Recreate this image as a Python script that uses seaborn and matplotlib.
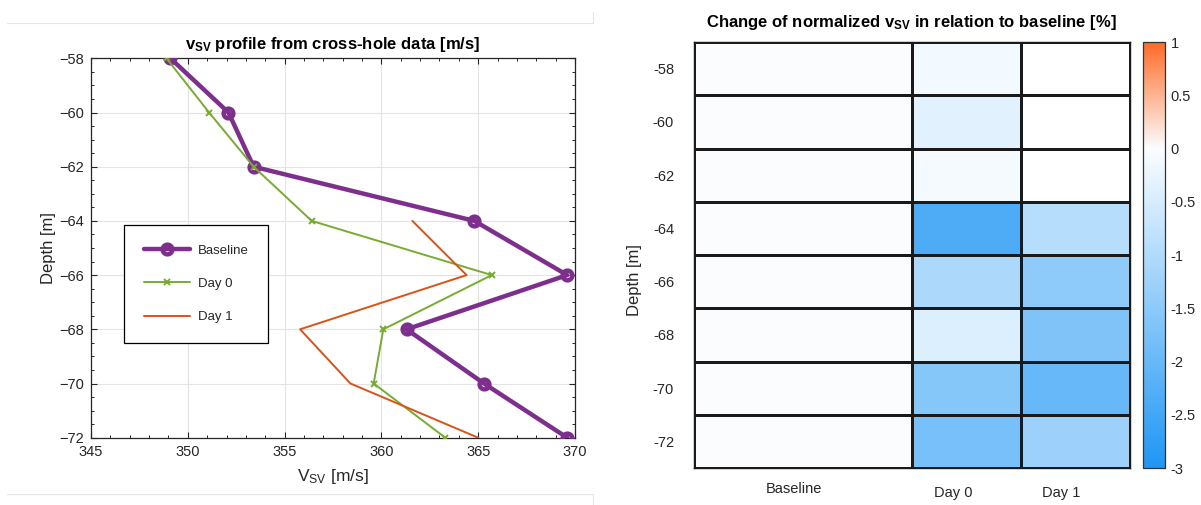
import numpy as np
import pandas as pd
import matplotlib
matplotlib.use("Agg")
import matplotlib.pyplot as plt
import matplotlib.transforms as mtransforms
from matplotlib.colors import LinearSegmentedColormap, Normalize
from matplotlib.ticker import MultipleLocator
from matplotlib.lines import Line2D
import seaborn as sns

# ---- data -------------------------------------------------------------
depth = [-58, -60, -62, -64, -66, -68, -70, -72]
vsv_baseline = [349.1, 352.1, 353.4, 364.8, 369.6, 361.3, 365.3, 369.6]
vsv_day0 = [348.9, 351.1, 353.4, 356.4, 365.7, 360.1, 359.6, 363.3]
depth_day1 = [-64, -66, -68, -70, -72]
vsv_day1 = [361.6, 364.4, 355.8, 358.4, 365.0]

# change of normalized vSV relative to baseline [%]
change_baseline = [0, 0, 0, 0, 0, 0, 0, 0]
change_day0 = [-0.12, -0.35, -0.08, -2.35, -1.08, -0.42, -1.58, -1.78]
change_day1 = [np.nan, np.nan, np.nan, -0.92, -1.48, -1.68, -2.02, -1.28]
campaigns = ["Baseline", "Day 0", "Day 1"]
campaign_widths = [2, 1, 1]

# ---- style ------------------------------------------------------------
sns.set_theme(style="ticks")
plt.rcParams["font.family"] = ["Liberation Sans", "DejaVu Sans"]
plt.rcParams["mathtext.fontset"] = "custom"
plt.rcParams["mathtext.rm"] = "Liberation Sans"
plt.rcParams["mathtext.it"] = "Liberation Sans:italic"
plt.rcParams["mathtext.bf"] = "Liberation Sans:bold"

TXT = "#262626"
TICK_FS = 10.5
fig = plt.figure(figsize=(12.01, 5.05), dpi=100)
fig.patch.set_facecolor("white")

# faint frame lines around the left panel
for y in (1 - 23 / 505, 1 - 494 / 505):
    fig.add_artist(Line2D([7 / 1201, 593 / 1201], [y, y], color="#E4E4E4", lw=0.8))
fig.add_artist(Line2D([593 / 1201, 593 / 1201], [1 - 12 / 505, 1 - 23 / 505], color="#E4E4E4", lw=0.8))
fig.add_artist(Line2D([593 / 1201, 593 / 1201], [1 - 494 / 505, 0], color="#E4E4E4", lw=0.8))

# ---- left: velocity profile ------------------------------------------
ax1 = fig.add_axes([91 / 1201, 1 - 437.7 / 505, 484 / 1201, 379.4 / 505])

purple = "#7E2F8E"
green = "#77AC30"
orange = "#D95319"

sns.lineplot(x=vsv_baseline, y=depth, ax=ax1, sort=False, estimator=None,
             color=purple, lw=3.2, marker="o", markersize=7,
             markeredgewidth=3.2, markerfacecolor="none",
             markeredgecolor=purple, label="Baseline", zorder=3)
sns.lineplot(x=vsv_day0, y=depth, ax=ax1, sort=False, estimator=None,
             color=green, lw=1.4, marker="x", markersize=5,
             markeredgewidth=1.4, markeredgecolor=green, label="Day 0", zorder=4)
sns.lineplot(x=vsv_day1, y=depth_day1, ax=ax1, sort=False, estimator=None,
             color=orange, lw=1.4, label="Day 1", zorder=4)

ax1.set_xlim(345, 370)
ax1.set_ylim(-72, -58)
ax1.xaxis.set_major_locator(MultipleLocator(5))
ax1.xaxis.set_minor_locator(MultipleLocator(1))
ax1.yaxis.set_major_locator(MultipleLocator(2))
ax1.yaxis.set_minor_locator(MultipleLocator(0.5))
ax1.grid(True, which="major", color="#E3E3E3", lw=0.8)
ax1.set_axisbelow(True)
for s in ax1.spines.values():
    s.set_visible(True)
    s.set_color(TXT)
    s.set_linewidth(0.9)
ax1.tick_params(which="both", direction="in", top=True, right=True,
                colors=TXT, labelcolor=TXT, labelsize=TICK_FS)
ax1.tick_params(which="major", length=4, width=0.8)
ax1.tick_params(which="minor", length=2.2, width=0.7)
ax1.tick_params(axis="x", pad=5)
ax1.tick_params(axis="y", pad=5)
ax1.set_xlabel(r"V$_{\rm SV}$ [m/s]", fontsize=12.5, color=TXT, labelpad=6)
ax1.set_ylabel("Depth [m]", fontsize=12, color=TXT, labelpad=2)
ax1.set_title(r"$\mathbf{v_{SV}}$ profile from cross-hole data [m/s]",
              fontsize=12, fontweight="bold", color="black", pad=7)

leg = ax1.legend(loc="upper left", bbox_to_anchor=(0.054, 0.579),
                 fontsize=9.5, frameon=True, fancybox=False, framealpha=1,
                 edgecolor="black", borderpad=1.5, labelspacing=1.6,
                 handlelength=3.5, handletextpad=0.6)
leg.get_frame().set_linewidth(0.9)
for t in leg.get_texts():
    t.set_color(TXT)

# ---- right: change heatmap -------------------------------------------
ax2 = fig.add_axes([693.5 / 1201, 1 - 468 / 505, 436 / 1201, 426 / 505])

cmap = LinearSegmentedColormap.from_list(
    "bwo", [(0.0, "#1E96F5"), (0.75, "#FBFDFF"), (1.0, "#FF6A26")], N=512)
cmap.set_bad("white")
norm = Normalize(vmin=-3, vmax=1)

x_edges = np.concatenate([[0], np.cumsum(campaign_widths)])
d = np.array(depth, dtype=float)
y_edges = np.concatenate([d + 1, [d[-1] - 1]])
values = np.ma.masked_invalid(np.column_stack([change_baseline, change_day0, change_day1]))
mesh = ax2.pcolormesh(x_edges, y_edges, values, cmap=cmap, norm=norm,
                      edgecolors="#1A1A1A", linewidth=1.0)
ax2.set_xlim(x_edges[0], x_edges[-1])
ax2.set_ylim(y_edges[-1], y_edges[0])
for s in ax2.spines.values():
    s.set_visible(True)
    s.set_color("#1A1A1A")
    s.set_linewidth(1.0)

centers = (x_edges[:-1] + x_edges[1:]) / 2
ax2.set_xticks(centers - np.array([0.08, 0.12, 0.13]))
ax2.set_xticklabels(campaigns)
ax2.set_yticks(depth)
ax2.set_yticklabels([str(v) for v in depth])
ax2.tick_params(length=0, labelsize=TICK_FS, colors=TXT, labelcolor=TXT)
ax2.tick_params(axis="x", pad=10)
ax2.tick_params(axis="y", pad=14)
for lab in ax2.get_xticklabels()[1:]:
    lab.set_transform(lab.get_transform() +
                      mtransforms.ScaledTranslation(0, -3 / 72, fig.dpi_scale_trans))
ax2.set_ylabel("Depth [m]", fontsize=12, color=TXT)
ax2.yaxis.set_label_coords(-0.118, 0.44)
ax2.set_title(r"Change of normalized v$_{\mathbf{SV}}$ in relation to baseline [%]",
              fontsize=12, fontweight="bold", color="black", pad=11)

cax = fig.add_axes([1143 / 1201, 1 - 468 / 505, 22 / 1201, 426 / 505])
cb = fig.colorbar(mesh, cax=cax, ticks=np.arange(-3, 1.01, 0.5))
cb.set_ticklabels(["-3", "-2.5", "-2", "-1.5", "-1", "-0.5", "0", "0.5", "1"])
cb.outline.set_edgecolor("#333333")
cb.outline.set_linewidth(0.9)
cax.tick_params(direction="in", length=3, width=0.8, colors=TXT,
                labelcolor=TXT, labelsize=TICK_FS, pad=4)

fig.savefig("out.png", dpi=100, facecolor="white")
